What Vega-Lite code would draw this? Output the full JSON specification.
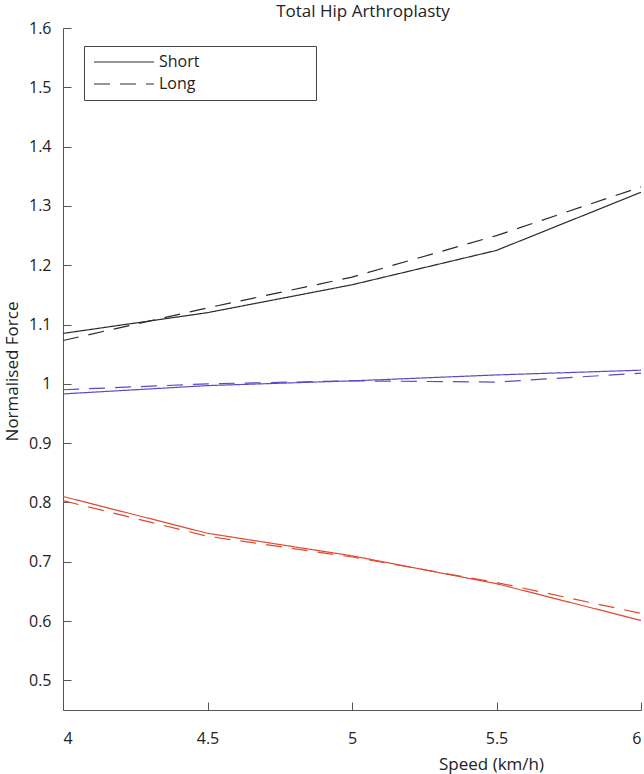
{
  "$schema": "https://vega.github.io/schema/vega-lite/v6.json",
  "width": 578,
  "height": 682,
  "autosize": {"type": "none"},
  "padding": {"left": 63, "top": 28, "right": 3, "bottom": 64},
  "background": "white",
  "title": {"text": "Total Hip Arthroplasty", "font": "Open Sans", "fontSize": 17, "fontWeight": "normal", "color": "#222", "anchor": "middle", "dx": 11, "offset": -1},
  "config": {"view": {"stroke": null}},
  "data": {"values": [
    {"speed": 4, "force": 1.085, "series": "Black", "type": "Short"},
    {"speed": 4.5, "force": 1.12, "series": "Black", "type": "Short"},
    {"speed": 5, "force": 1.167, "series": "Black", "type": "Short"},
    {"speed": 5.5, "force": 1.225, "series": "Black", "type": "Short"},
    {"speed": 6, "force": 1.323, "series": "Black", "type": "Short"},
    {"speed": 4, "force": 1.073, "series": "Black", "type": "Long"},
    {"speed": 4.5, "force": 1.128, "series": "Black", "type": "Long"},
    {"speed": 5, "force": 1.18, "series": "Black", "type": "Long"},
    {"speed": 5.5, "force": 1.25, "series": "Black", "type": "Long"},
    {"speed": 6, "force": 1.332, "series": "Black", "type": "Long"},
    {"speed": 4, "force": 0.983, "series": "Blue", "type": "Short"},
    {"speed": 4.5, "force": 0.997, "series": "Blue", "type": "Short"},
    {"speed": 5, "force": 1.005, "series": "Blue", "type": "Short"},
    {"speed": 5.5, "force": 1.015, "series": "Blue", "type": "Short"},
    {"speed": 6, "force": 1.023, "series": "Blue", "type": "Short"},
    {"speed": 4, "force": 0.99, "series": "Blue", "type": "Long"},
    {"speed": 4.5, "force": 1.0, "series": "Blue", "type": "Long"},
    {"speed": 5, "force": 1.005, "series": "Blue", "type": "Long"},
    {"speed": 5.5, "force": 1.003, "series": "Blue", "type": "Long"},
    {"speed": 6, "force": 1.018, "series": "Blue", "type": "Long"},
    {"speed": 4, "force": 0.81, "series": "Red", "type": "Short"},
    {"speed": 4.5, "force": 0.748, "series": "Red", "type": "Short"},
    {"speed": 5, "force": 0.71, "series": "Red", "type": "Short"},
    {"speed": 5.5, "force": 0.663, "series": "Red", "type": "Short"},
    {"speed": 6, "force": 0.601, "series": "Red", "type": "Short"},
    {"speed": 4, "force": 0.803, "series": "Red", "type": "Long"},
    {"speed": 4.5, "force": 0.743, "series": "Red", "type": "Long"},
    {"speed": 5, "force": 0.708, "series": "Red", "type": "Long"},
    {"speed": 5.5, "force": 0.665, "series": "Red", "type": "Long"},
    {"speed": 6, "force": 0.613, "series": "Red", "type": "Long"}
  ]},
  "mark": {"type": "line", "strokeWidth": 1.2, "clip": true},
  "encoding": {
    "x": {"field": "speed", "type": "quantitative",
      "scale": {"domain": [4, 6], "nice": false, "zero": false},
      "axis": {"values": [4, 4.5, 5, 5.5, 6], "format": "~g", "grid": false, "title": "Speed (km/h)",
        "domainColor": "#555", "tickColor": "#555", "tickSize": -8, "labelPadding": 28,
        "labelFont": "Open Sans", "labelFontSize": 16, "labelColor": "#222",
        "titleFont": "Open Sans", "titleFontSize": 17, "titleFontWeight": "normal", "titleColor": "#222",
        "titleX": 428, "titleY": 54, "titleAlign": "center", "titleBaseline": "middle"}},
    "y": {"field": "force", "type": "quantitative",
      "scale": {"domain": [0.45, 1.6], "nice": false, "zero": false},
      "axis": {"values": [0.5, 0.6, 0.7, 0.8, 0.9, 1, 1.1, 1.2, 1.3, 1.4, 1.5, 1.6], "format": "~g", "grid": false, "title": "Normalised Force",
        "domainColor": "#555", "tickColor": "#555", "tickSize": -8, "labelPadding": 20,
        "labelFont": "Open Sans", "labelFontSize": 16, "labelColor": "#222",
        "titleFont": "Open Sans", "titleFontSize": 17, "titleFontWeight": "normal", "titleColor": "#222",
        "titleX": -51, "titleY": 343, "titleAlign": "center", "titleBaseline": "middle"}},
    "color": {"field": "series", "type": "nominal",
      "scale": {"domain": ["Black", "Blue", "Red"], "range": ["#2a2a2a", "#5a4cc4", "#dc4a2f"]},
      "legend": null},
    "strokeDash": {"field": "type", "type": "nominal",
      "scale": {"domain": ["Short", "Long"], "range": [[1, 0], [16, 10]]},
      "legend": {"title": null, "orient": "none", "legendX": 21, "legendY": 18,
        "symbolType": "M-1.2,0H10.8", "symbolSize": 100, "symbolStrokeWidth": 1.2, "symbolStrokeColor": "#2a2a2a", "symbolFillColor": "transparent",
        "labelFont": "Open Sans", "labelFontSize": 16, "labelColor": "#222", "labelOffset": 51,
        "labelExpr": "datum.label + '\u2800\u2800\u2800\u2800\u2800\u2800\u2800\u2800\u2800'",
        "fillColor": "white", "strokeColor": "#444", "padding": 8, "rowPadding": 6,
        "labelLimit": 300}}
  }
}
